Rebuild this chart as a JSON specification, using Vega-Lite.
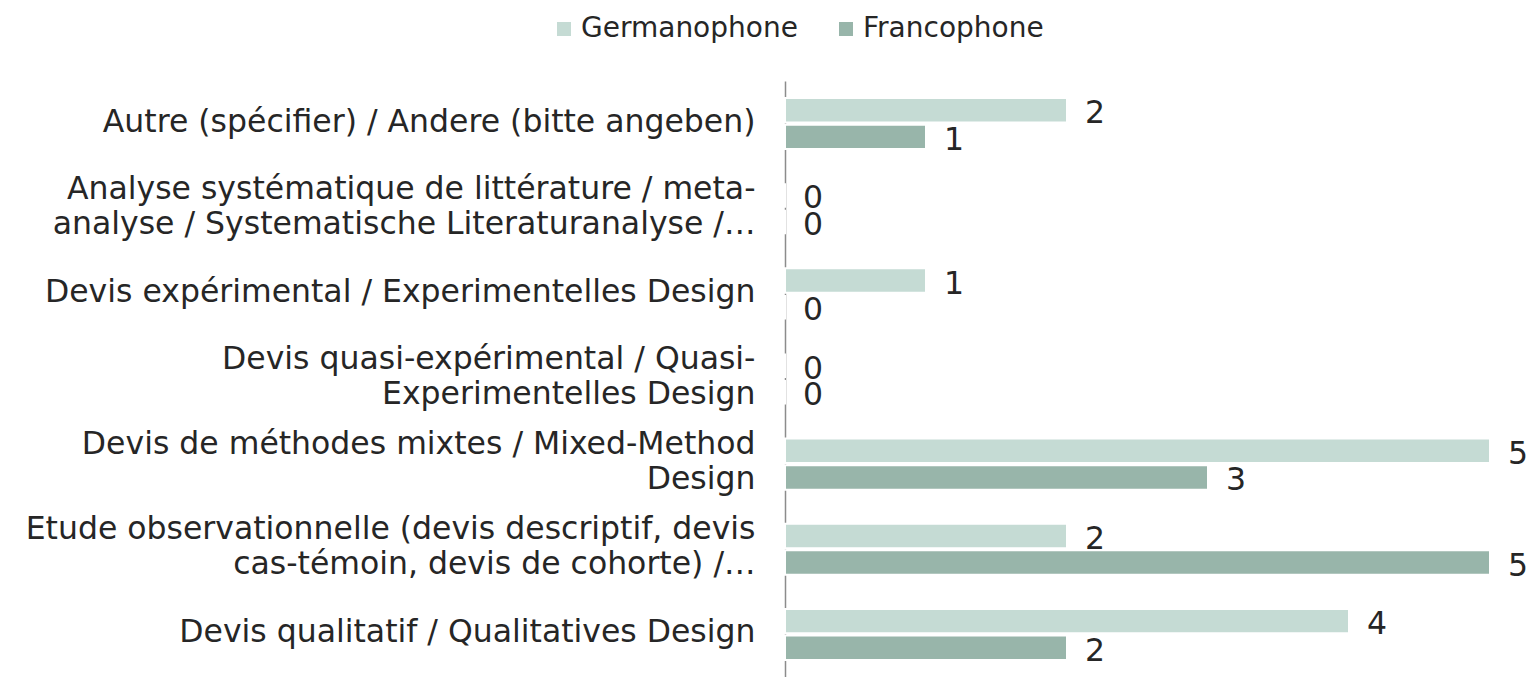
{
  "$schema": "https://vega.github.io/schema/vega-lite/v6.json",
  "width": 705,
  "height": 596,
  "autosize": {"type": "none"},
  "padding": {"left": 785, "top": 81, "right": 49, "bottom": 0},
  "background": "white",
  "config": {
    "font": "DejaVu Sans",
    "view": {"stroke": null}
  },
  "data": {
    "values": [
      {"cat": "Autre (spécifier) / Andere (bitte angeben)", "group": "Germanophone", "n": 2},
      {"cat": "Autre (spécifier) / Andere (bitte angeben)", "group": "Francophone", "n": 1},
      {"cat": "Analyse systématique de littérature / meta-\nanalyse / Systematische Literaturanalyse /…", "group": "Germanophone", "n": 0},
      {"cat": "Analyse systématique de littérature / meta-\nanalyse / Systematische Literaturanalyse /…", "group": "Francophone", "n": 0},
      {"cat": "Devis expérimental / Experimentelles Design", "group": "Germanophone", "n": 1},
      {"cat": "Devis expérimental / Experimentelles Design", "group": "Francophone", "n": 0},
      {"cat": "Devis quasi-expérimental / Quasi-\nExperimentelles Design", "group": "Germanophone", "n": 0},
      {"cat": "Devis quasi-expérimental / Quasi-\nExperimentelles Design", "group": "Francophone", "n": 0},
      {"cat": "Devis de méthodes mixtes / Mixed-Method\nDesign", "group": "Germanophone", "n": 5},
      {"cat": "Devis de méthodes mixtes / Mixed-Method\nDesign", "group": "Francophone", "n": 3},
      {"cat": "Etude observationnelle (devis descriptif, devis\ncas-témoin, devis de cohorte) /…", "group": "Germanophone", "n": 2},
      {"cat": "Etude observationnelle (devis descriptif, devis\ncas-témoin, devis de cohorte) /…", "group": "Francophone", "n": 5},
      {"cat": "Devis qualitatif / Qualitatives Design", "group": "Germanophone", "n": 4},
      {"cat": "Devis qualitatif / Qualitatives Design", "group": "Francophone", "n": 2}
    ]
  },
  "encoding": {
    "y": {
      "field": "cat",
      "type": "nominal",
      "sort": null,
      "scale": {"paddingInner": 0.4, "paddingOuter": 0.2},
      "axis": {
        "title": null,
        "ticks": false,
        "domainColor": "#8c8c8c",
        "domainWidth": 1.5,
        "labelFontSize": 31.5,
        "labelColor": "#262626",
        "labelPadding": 30,
        "labelLimit": 0,
        "labelLineHeight": 35,
        "labelOffset": {"condition": {"test": "indexof(datum.value, '\\n') >= 0", "value": -19}, "value": -1},
        "labelExpr": "split(datum.label, '\\n')"
      }
    },
    "yOffset": {
      "field": "group",
      "type": "nominal",
      "sort": ["Germanophone", "Francophone"],
      "scale": {"paddingInner": 0.08}
    },
    "x": {
      "field": "n",
      "type": "quantitative",
      "scale": {"domain": [0, 5], "nice": false},
      "axis": null
    }
  },
  "layer": [
    {
      "mark": {"type": "bar", "stroke": "white", "strokeWidth": 2},
      "encoding": {
        "color": {
          "field": "group",
          "type": "nominal",
          "scale": {"domain": ["Germanophone", "Francophone"], "range": ["#c5dbd4", "#98b5aa"]},
          "legend": {
            "title": null,
            "orient": "none",
            "direction": "horizontal",
            "legendX": -235,
            "legendY": -66,
            "symbolType": "square",
            "symbolSize": 196,
            "symbolStrokeWidth": 0,
            "labelFontSize": 28,
            "labelLimit": 0,
            "labelColor": "#262626",
            "labelOffset": 3,
            "columnPadding": 34
          }
        }
      }
    },
    {
      "mark": {"type": "text", "align": "left", "baseline": "middle", "dx": 18, "dy": 4, "fontSize": 31.5, "color": "#262626"},
      "encoding": {
        "text": {"field": "n", "type": "quantitative"}
      }
    }
  ]
}
